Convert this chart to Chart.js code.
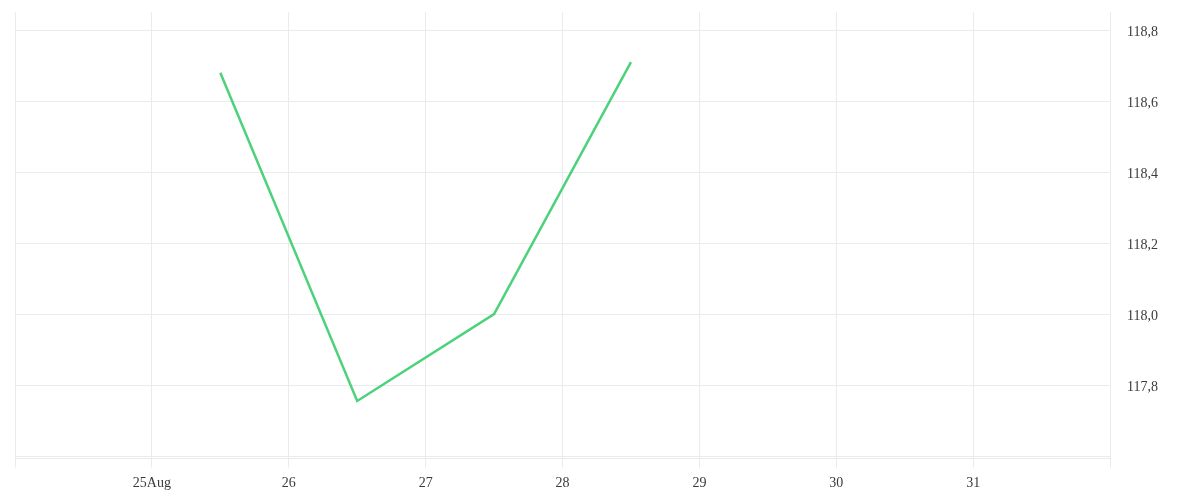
<!DOCTYPE html>
<html>
<head>
<meta charset="utf-8">
<script src="https://cdn.jsdelivr.net/npm/chart.js@4"></script>
<style>
  html, body { margin: 0; padding: 0; background: #fff; }
  #wrap { width: 1200px; height: 500px; position: relative; }
</style>
</head>
<body>
<div id="wrap"><canvas id="priceChart"></canvas></div>
<script>
// Day-of-month positions (noon of each day) and prices
const pointDays = [25.5, 26.5, 27.5, 28.5];
const prices = [118.68, 117.755, 118.0, 118.71];

// Axis ticks
const dayTicks = [24, 25, 26, 27, 28, 29, 30, 31, 32];
const dayTickLabels = ['', '25Aug', '26', '27', '28', '29', '30', '31', ''];
const priceTicks = [117.6, 117.8, 118.0, 118.2, 118.4, 118.6, 118.8];
const priceTickLabels = ['', '117,8', '118,0', '118,2', '118,4', '118,6', '118,8'];

const gridColor = '#ebebeb';
const textColor = '#3a3a3a';

const ctx = document.getElementById('priceChart').getContext('2d');
Chart.defaults.font.family = '"Liberation Serif", serif';
Chart.defaults.font.size = 14;
Chart.defaults.color = textColor;

new Chart(ctx, {
    type: 'line',
    data: {
        datasets: [{
            data: pointDays.map((d, i) => ({ x: d, y: prices[i] })),
            borderColor: '#4cd27b',
            borderWidth: 2.5,
            pointRadius: 0,
            tension: 0,
            fill: false
        }]
    },
    options: {
        responsive: true,
        maintainAspectRatio: false,
        animation: false,
        layout: { padding: { left: 15, top: 12, right: 0, bottom: 0 } },
        plugins: {
            legend: { display: false },
            tooltip: { enabled: false }
        },
        scales: {
            x: {
                type: 'linear',
                min: 24,
                max: 32,
                afterBuildTicks: (scale) => {
                    scale.ticks = dayTicks.map(v => ({ value: v }));
                },
                afterFit: (scale) => {
                    scale.height = 41.5;
                    scale.paddingLeft = 0;
                    scale.paddingRight = 0;
                },
                ticks: {
                    padding: 7.5,
                    maxRotation: 0,
                    autoSkip: false,
                    callback: (value) => dayTickLabels[dayTicks.indexOf(value)]
                },
                grid: { color: gridColor, tickLength: 9 },
                border: { color: gridColor }
            },
            y: {
                position: 'right',
                min: 117.593,
                max: 118.851,
                afterBuildTicks: (scale) => {
                    scale.ticks = priceTicks.map(v => ({ value: v }));
                },
                afterFit: (scale) => {
                    scale.width = 90;
                    scale.paddingTop = 0;
                    scale.paddingBottom = 0;
                },
                ticks: {
                    padding: 17,
                    labelOffset: 2.5,
                    callback: (value) => priceTickLabels[priceTicks.indexOf(value)]
                },
                grid: { color: gridColor, drawTicks: false },
                border: { display: false }
            }
        }
    }
});
</script>
</body>
</html>
